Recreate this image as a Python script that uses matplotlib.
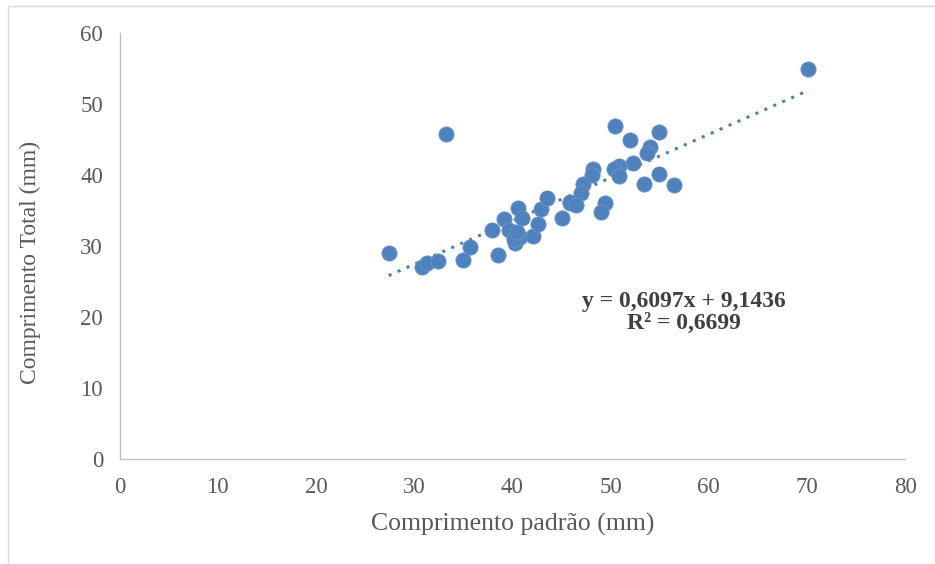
import numpy as np
import matplotlib.pyplot as plt
from matplotlib.patches import Rectangle

# data
comp_padrao = [27.4, 33.2, 30.8, 31.3, 32.4, 35.0, 35.7, 38.5, 37.9, 39.1,
               40.6, 41.0, 39.7, 40.3, 40.8, 42.1, 42.6, 42.9, 43.5, 45.1,
               45.9, 70.1, 50.5, 54.9, 52.0, 54.0, 53.7, 52.3, 50.9, 50.4,
               50.9, 48.2, 48.1, 47.2, 47.0, 45.9, 46.5, 49.4, 54.9, 53.4,
               56.5, 49.0, 40.2, 40.5]
comp_total = [29.0, 45.8, 27.1, 27.6, 27.9, 28.1, 29.9, 28.7, 32.2, 33.8,
              35.3, 34.0, 32.3, 30.4, 31.3, 31.4, 33.1, 35.2, 36.8, 33.9,
              36.1, 54.9, 46.9, 46.1, 44.9, 44.0, 43.1, 41.7, 41.3, 40.9,
              39.8, 40.9, 40.0, 38.8, 37.4, 36.2, 35.8, 36.0, 40.1, 38.7,
              38.6, 34.8, 31.0, 32.0]
slope = 0.6097
intercept = 9.1436

plt.rcParams['font.family'] = ['Liberation Serif', 'DejaVu Serif']

fig = plt.figure(figsize=(9.35, 5.64), dpi=100)
ax = fig.add_axes([0.128, 0.186, 0.84, 0.7555])

ax.scatter(comp_padrao, comp_total, s=120, color='#4F81BD', edgecolors='#6B95C9',
           linewidths=0.6, zorder=3)

xs = np.array([min(comp_padrao), max(comp_padrao)])
ax.plot(xs, slope * xs + intercept, linestyle=(0, (1, 2.2)), color='#4A7EBB',
        linewidth=2.2, zorder=2)

ax.set_xlim(0, 80)
ax.set_ylim(0, 60)
ax.set_xticks(range(0, 81, 10))
ax.set_yticks(range(0, 61, 10))
ax.tick_params(length=0, labelsize=16.5, labelcolor='#595959')
ax.tick_params(axis='x', pad=13)
ax.tick_params(axis='y', pad=12)

for s in ['top', 'right']:
    ax.spines[s].set_visible(False)
for s in ['left', 'bottom']:
    ax.spines[s].set_color('#BFBFBF')
    ax.spines[s].set_linewidth(1)

ax.set_xlabel('Comprimento padrão (mm)', fontsize=18.5, color='#595959')
ax.xaxis.set_label_coords(0.5, -0.127)
ax.set_ylabel('Comprimento Total (mm)', fontsize=17, color='#595959')
ax.yaxis.set_label_coords(-0.1, 0.462)

ax.text(57.5, 20.7, 'y = 0,6097x + 9,1436\nR² = 0,6699', ha='center', va='center',
        fontsize=17, fontweight='bold', color='#404040', linespacing=1.05)

fig.patches.append(Rectangle((0.009, -0.01), 1.1, 1.0, transform=fig.transFigure,
                             fill=False, edgecolor='#D9D9D9', linewidth=1))

fig.savefig('out.png', dpi=100)
